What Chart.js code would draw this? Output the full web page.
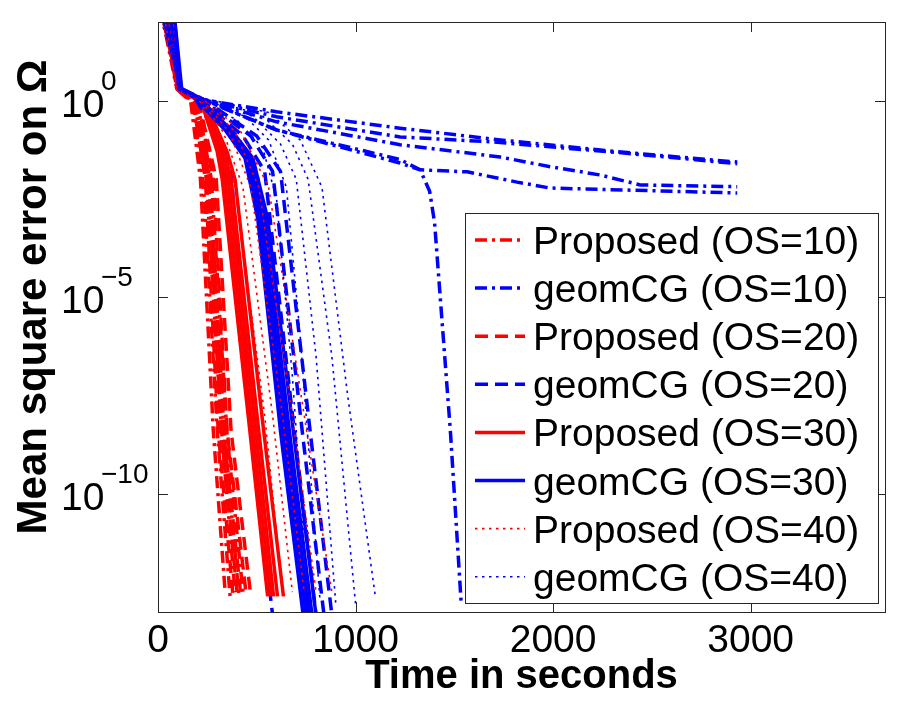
<!DOCTYPE html>
<html>
<head>
<meta charset="utf-8">
<script src="https://cdn.jsdelivr.net/npm/chart.js@4.4.0/dist/chart.umd.min.js"></script>
<style>
  html, body { margin: 0; padding: 0; background: #fff; }
  #wrap { width: 900px; height: 703px; }
</style>
</head>
<body>
<div id="wrap"><canvas id="grafico" width="900" height="703"></canvas></div>
<script>
var groupNames = ['Proposed (OS=10)', 'geomCG (OS=10)', 'Proposed (OS=20)', 'geomCG (OS=20)',
                  'Proposed (OS=30)', 'geomCG (OS=30)', 'Proposed (OS=40)', 'geomCG (OS=40)'];
var xTicks = [0, 1000, 2000, 3000];
var yTicks = [1, 1e-5, 1e-10];
var yTickExp = ['0', '\u22125', '\u221210'];
var yTitle = 'Mean square error on \u03A9';

// time (s) / mean square error, one inner array per run
var prop10T = [[15, 95, 165, 215, 280, 340], [45, 100, 175, 230, 300, 365], [25, 105, 185, 245, 320, 390],
               [60, 100, 190, 255, 335, 410], [35, 110, 200, 270, 350, 430]];
var prop10V = [[200, 2, 1, 1e-2, 4e-9, 3.2e-13], [200, 2, 0.95, 8e-3, 4e-9, 2.5e-13], [200, 1.8, 0.9, 1e-2, 5e-9, 3.2e-13],
               [200, 2, 1, 1.2e-2, 4e-9, 2.5e-13], [200, 1.8, 0.9, 1e-2, 3e-9, 3.2e-13]];

var geom10T = [[40, 105, 200, 600, 1225, 1732, 2330, 2932],
               [70, 110, 205, 600, 1225, 1696, 2330, 2932],
               [20, 100, 210, 600, 1225, 1732, 1985, 2238, 2441, 2932],
               [55, 115, 215, 600, 1225, 1327, 1565, 1818, 1985, 2932],
               [10, 110, 220, 600, 1225, 1327, 1375, 1400, 1480, 1535]];
var geom10V = [[200, 2, 1.12, 0.52, 0.2, 0.1, 0.05, 0.0275],
               [200, 2, 1.12, 0.39, 0.12, 0.089, 0.048, 0.025],
               [200, 2, 1.12, 0.29, 0.076, 0.037, 0.021, 0.0129, 0.0072, 0.0065],
               [200, 2, 1.12, 0.18, 0.026, 0.0174, 0.0155, 0.0085, 0.006, 0.0045],
               [200, 2, 1.12, 0.18, 0.032, 0.0174, 5e-3, 7.9e-4, 4e-9, 1.6e-13]];

var prop20T = [[30, 95, 180, 240, 305, 380], [50, 100, 190, 255, 320, 400], [75, 105, 195, 265, 335, 420],
               [20, 110, 205, 280, 350, 445], [65, 115, 210, 295, 370, 470]];
var prop20V = [[200, 2, 0.8, 1e-2, 4e-9, 2.5e-13], [200, 2, 0.8, 1e-2, 4e-9, 3.2e-13], [200, 1.8, 0.8, 8e-3, 3e-9, 2.5e-13],
               [200, 2, 0.8, 1e-2, 4e-9, 3.2e-13], [200, 1.8, 0.8, 1e-2, 4e-9, 2.5e-13]];

var geom20T = [[25, 100, 190, 300, 370, 470, 590], [45, 110, 200, 400, 500, 650, 770], [80, 115, 210, 430, 540, 690, 810],
               [35, 105, 215, 470, 580, 730, 850], [55, 120, 225, 500, 620, 770, 890]];
var geom20V = [[200, 2, 1.12, 0.126, 0.016, 4e-9, 3.2e-14], [200, 2, 1.12, 0.126, 0.016, 4e-9, 3.2e-14],
               [200, 2, 1.12, 0.126, 0.016, 4e-9, 3.2e-14], [200, 2, 1.12, 0.126, 0.016, 4e-9, 3.2e-14],
               [200, 2, 1.12, 0.126, 0.016, 4e-9, 3.2e-14]];

var prop30T = [[40, 100, 220, 300, 325, 465, 555], [15, 105, 225, 310, 340, 480, 570], [60, 110, 230, 320, 355, 495, 585],
               [30, 100, 235, 335, 370, 510, 605], [70, 115, 240, 350, 390, 535, 635]];
var prop30V = [[200, 2, 0.9, 0.05, 1e-2, 4e-9, 2.5e-13], [200, 2, 0.9, 0.05, 1e-2, 4e-9, 2.5e-13],
               [200, 2, 0.9, 0.05, 1e-2, 4e-9, 2.5e-13], [200, 2, 0.9, 0.05, 1e-2, 4e-9, 2.5e-13],
               [200, 2, 0.9, 0.05, 1e-2, 4e-9, 2.5e-13]];

var geom30T = [[50, 110, 180, 340, 440, 505, 620, 745], [20, 115, 185, 345, 450, 515, 635, 760],
               [65, 105, 190, 350, 460, 525, 650, 775], [35, 110, 195, 360, 470, 540, 665, 790],
               [80, 120, 200, 370, 480, 555, 685, 810]];
var geom30V = [[200, 2, 1.26, 0.18, 0.035, 1e-3, 4e-9, 3.2e-14], [200, 2, 1.26, 0.18, 0.035, 1e-3, 4e-9, 3.2e-14],
               [200, 2, 1.26, 0.18, 0.035, 1e-3, 4e-9, 3.2e-14], [200, 2, 1.26, 0.18, 0.035, 1e-3, 4e-9, 3.2e-14],
               [200, 2, 1.26, 0.18, 0.035, 1e-3, 4e-9, 3.2e-14]];

var prop40T = [[25, 100, 210, 300, 390, 540, 630], [55, 105, 220, 330, 430, 580, 680], [40, 110, 230, 360, 470, 630, 740],
               [75, 100, 240, 390, 510, 680, 800], [45, 115, 250, 420, 560, 740, 880]];
var prop40V = [[200, 2, 1, 0.16, 6.3e-3, 1e-8, 3.2e-13], [200, 2, 1, 0.16, 6.3e-3, 1e-8, 3.2e-13],
               [200, 2, 1, 0.16, 6.3e-3, 1e-8, 3.2e-13], [200, 2, 1, 0.16, 6.3e-3, 1e-8, 3.2e-13],
               [200, 2, 1, 0.16, 6.3e-3, 1e-8, 3.2e-13]];

var geom40T = [[10, 110, 200, 400, 530, 600, 680, 760], [60, 105, 210, 440, 560, 650, 720, 820],
               [35, 115, 220, 480, 620, 700, 800, 900], [80, 100, 230, 520, 680, 760, 880, 1000],
               [50, 120, 240, 560, 720, 830, 960, 1100]];
var geom40V = [[200, 2, 1.12, 0.32, 0.063, 3.2e-3, 1e-7, 2e-13], [200, 2, 1.12, 0.4, 0.1, 6.3e-3, 1e-6, 2e-13],
               [200, 2, 1.12, 0.4, 0.079, 0.01, 3.2e-7, 1.6e-13], [200, 2, 1.12, 0.45, 0.079, 0.01, 3.2e-7, 1.6e-13],
               [200, 2, 1.12, 0.5, 0.1, 6.3e-3, 3.2e-8, 2.5e-13]];

var groupTimes = [prop10T, geom10T, prop20T, geom20T, prop30T, geom30T, prop40T, geom40T];
var groupVals = [prop10V, geom10V, prop20V, geom20V, prop30V, geom30V, prop40V, geom40V];

// line styles (matlab-ish)
var dashDot = [12, 5, 3, 5], dashed = [13, 7], dotted = [2.5, 4.5];
var estilos = [
  {color: '#ff0000', width: 3.5, dash: dashDot},
  {color: '#0000ff', width: 3.5, dash: dashDot},
  {color: '#ff0000', width: 3.5, dash: dashed},
  {color: '#0000ff', width: 3.5, dash: dashed},
  {color: '#ff0000', width: 3.5, dash: []},
  {color: '#0000ff', width: 3.5, dash: []},
  {color: '#ff0000', width: 1.6, dash: dotted},
  {color: '#0000ff', width: 1.6, dash: dotted}
];

var fuente = "'Liberation Sans', Arial, sans-serif";

var dataSets = [];
groupTimes.forEach((runs, g) => {
  runs.forEach((tt, r) => {
    dataSets.push({
      label: groupNames[g],
      data: tt.map((t, i) => ({x: t, y: groupVals[g][r][i]})),
      borderColor: estilos[g].color,
      borderWidth: estilos[g].width,
      borderDash: estilos[g].dash,
      pointRadius: 0,
      tension: 0,
      fill: false,
      clip: 0,
      order: -dataSets.length
    });
  });
});

// box, inward ticks, y labels with exponents, y title and the legend
var marco = {
  id: 'marco',
  afterDraw(chart) {
    const ctx = chart.ctx, a = chart.chartArea;
    const sx = chart.scales.x, sy = chart.scales.y;
    ctx.save();
    ctx.strokeStyle = '#262626';
    ctx.lineWidth = 1;
    ctx.setLineDash([]);
    ctx.strokeRect(Math.round(a.left) + 0.5, Math.round(a.top) + 0.5, Math.round(a.width), Math.round(a.height));
    ctx.beginPath();
    xTicks.forEach(v => {
      const px = Math.round(sx.getPixelForValue(v)) + 0.5;
      ctx.moveTo(px, a.bottom); ctx.lineTo(px, a.bottom - 10);
      ctx.moveTo(px, a.top); ctx.lineTo(px, a.top + 10);
    });
    yTicks.forEach(v => {
      const py = Math.round(sy.getPixelForValue(v)) + 0.5;
      ctx.moveTo(a.left, py); ctx.lineTo(a.left + 10, py);
      ctx.moveTo(a.right, py); ctx.lineTo(a.right - 10, py);
    });
    ctx.stroke();

    ctx.fillStyle = '#000';
    ctx.textAlign = 'left';
    ctx.textBaseline = 'alphabetic';
    yTicks.forEach((v, i) => {
      const py = sy.getPixelForValue(v);
      ctx.font = '39px ' + fuente;
      ctx.fillText('10', 61, py + 16);
      ctx.font = '28px ' + fuente;
      ctx.fillText(yTickExp[i], 101, py - 11);
    });

    ctx.save();
    ctx.translate(46, 297);
    ctx.rotate(-Math.PI / 2);
    ctx.textAlign = 'center';
    ctx.font = 'bold 42px ' + fuente;
    ctx.fillText(yTitle, 0, 0);
    ctx.restore();

    // legend
    const lg = {left: 465, top: 213, right: 878, bottom: 603, row0: 240, step: 48.1};
    ctx.fillStyle = '#fff';
    ctx.fillRect(lg.left, lg.top, lg.right - lg.left, lg.bottom - lg.top);
    ctx.strokeStyle = '#262626';
    ctx.lineWidth = 1;
    ctx.strokeRect(lg.left + 0.5, lg.top + 0.5, lg.right - lg.left, lg.bottom - lg.top);
    groupNames.forEach((name, g) => {
      const cy = lg.row0 + g * lg.step;
      ctx.beginPath();
      ctx.strokeStyle = estilos[g].color;
      ctx.lineWidth = estilos[g].width;
      ctx.setLineDash(estilos[g].dash);
      ctx.moveTo(475, cy); ctx.lineTo(525, cy);
      ctx.stroke();
      ctx.setLineDash([]);
      ctx.fillStyle = '#000';
      ctx.font = '39px ' + fuente;
      ctx.fillText(name, 533, cy + 14);
    });
    ctx.restore();
  }
};

var ctx1 = document.getElementById('grafico').getContext('2d');
var myChart = new Chart(ctx1, {
  type: 'line',
  data: { datasets: dataSets },
  options: {
    responsive: false,
    animation: false,
    layout: { padding: { top: 22, right: 15, left: 0, bottom: 0 } },
    plugins: { legend: { display: false }, tooltip: { enabled: false } },
    scales: {
      x: {
        type: 'linear', min: 0, max: 3680,
        afterBuildTicks: s => { s.ticks = xTicks.map(v => ({value: v})); },
        afterFit: s => { s.height = 91; },
        grid: { display: false, drawTicks: false },
        border: { display: false },
        ticks: { color: '#000', font: { family: fuente, size: 39 }, padding: 6, maxRotation: 0, autoSkip: false,
                 callback: v => String(v) },
        title: { display: true, text: 'Time in seconds', color: '#000',
                 font: { family: fuente, size: 40, weight: 'bold' }, padding: { top: 0, bottom: 2 } }
      },
      y: {
        type: 'logarithmic', min: 1e-13, max: 1e2,
        afterBuildTicks: s => { s.ticks = yTicks.map(v => ({value: v})); },
        afterFit: s => { s.width = 158; },
        grid: { display: false, drawTicks: false },
        border: { display: false },
        ticks: { display: false },
        title: { display: false }
      }
    }
  },
  plugins: [marco]
});
</script>
</body>
</html>
